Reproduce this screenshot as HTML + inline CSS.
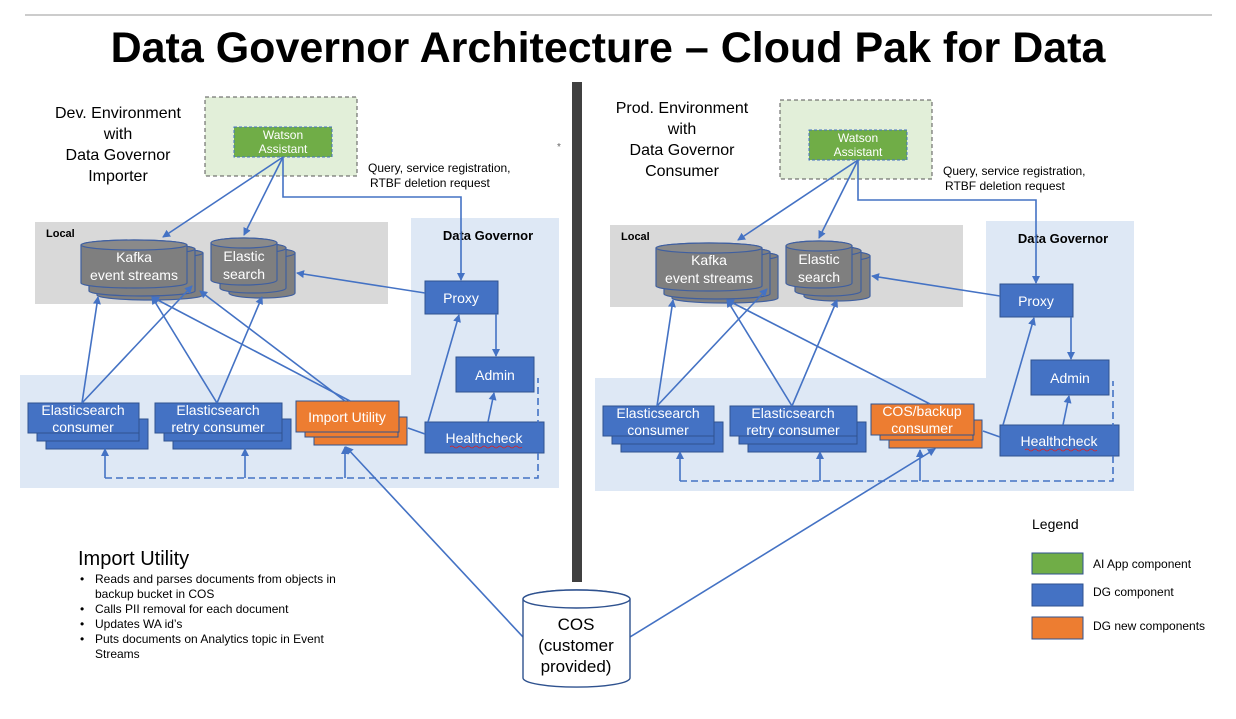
<!DOCTYPE html>
<html><head><meta charset="utf-8"><style>
html,body{margin:0;padding:0;background:#fff;}
svg{display:block;font-family:"Liberation Sans",sans-serif;}
</style></head><body>
<svg width="1236" height="719" viewBox="0 0 1236 719" xmlns="http://www.w3.org/2000/svg">
<defs>
<marker id="a" markerWidth="8" markerHeight="8" refX="7" refY="4" orient="auto" markerUnits="userSpaceOnUse"><path d="M0,0 L8,4 L0,8 Z" fill="#4472c4"/></marker>
<g id="kaf">
 <path d="M97,253 a53,5 0 0 1 106,0 v42 a53,5 0 0 1 -106,0 Z" fill="#7f7f7f" stroke="#3f5fa0" stroke-width="1.2"/>
 <ellipse cx="150" cy="253" rx="53" ry="5" fill="#808080" stroke="#3f5fa0" stroke-width="1.2"/>
 <path d="M89,249 a53,5 0 0 1 106,0 v42 a53,5 0 0 1 -106,0 Z" fill="#7f7f7f" stroke="#3f5fa0" stroke-width="1.2"/>
 <ellipse cx="142" cy="249" rx="53" ry="5" fill="#808080" stroke="#3f5fa0" stroke-width="1.2"/>
 <path d="M81,245 a53,5 0 0 1 106,0 v38 a53,5 0 0 1 -106,0 Z" fill="#7f7f7f" stroke="#3f5fa0" stroke-width="1.2"/>
 <ellipse cx="134" cy="245" rx="53" ry="5" fill="#8a8a8a" stroke="#3f5fa0" stroke-width="1.2"/>
 <text x="134" y="262" fill="#fff" font-size="14" text-anchor="middle">Kafka</text>
 <text x="134" y="280" fill="#fff" font-size="14" text-anchor="middle">event streams</text>
 <path d="M229,253 a33,5 0 0 1 66,0 v40 a33,5 0 0 1 -66,0 Z" fill="#7f7f7f" stroke="#3f5fa0" stroke-width="1.2"/>
 <ellipse cx="262" cy="253" rx="33" ry="5" fill="#808080" stroke="#3f5fa0" stroke-width="1.2"/>
 <path d="M220,248 a33,5 0 0 1 66,0 v40 a33,5 0 0 1 -66,0 Z" fill="#7f7f7f" stroke="#3f5fa0" stroke-width="1.2"/>
 <ellipse cx="253" cy="248" rx="33" ry="5" fill="#808080" stroke="#3f5fa0" stroke-width="1.2"/>
 <path d="M211,243 a33,5 0 0 1 66,0 v37 a33,5 0 0 1 -66,0 Z" fill="#7f7f7f" stroke="#3f5fa0" stroke-width="1.2"/>
 <ellipse cx="244" cy="243" rx="33" ry="5" fill="#8a8a8a" stroke="#3f5fa0" stroke-width="1.2"/>
 <text x="244" y="261" fill="#fff" font-size="14" text-anchor="middle">Elastic</text>
 <text x="244" y="279" fill="#fff" font-size="14" text-anchor="middle">search</text>
</g>
<g id="base">
 <rect x="20" y="375" width="391" height="113" fill="#dee8f5"/>
 <rect x="411" y="218" width="148" height="270" fill="#dee8f5"/>
 <rect x="35" y="222" width="353" height="82" fill="#d9d9d9"/>
 <text x="46" y="237" font-size="11" font-weight="bold">Local</text>
 <text x="488" y="240" font-size="13" font-weight="bold" text-anchor="middle">Data Governor</text>
 <rect x="205" y="97" width="152" height="79" fill="#e2efd9" stroke="#555" stroke-dasharray="4,3"/>
 <rect x="234" y="127" width="98" height="30" fill="#70ad47" stroke="#4472c4" stroke-dasharray="3,2"/>
 <text x="283" y="139" fill="#fff" font-size="12" text-anchor="middle">Watson</text>
 <text x="283" y="153" fill="#fff" font-size="12" text-anchor="middle">Assistant</text>
 <use href="#kaf"/>
 <g fill="#4472c4" stroke="#2f528f">
  <rect x="46" y="419" width="102" height="30"/><rect x="37" y="411" width="102" height="30"/><rect x="28" y="403" width="111" height="30"/>
  <rect x="173" y="419" width="118" height="30"/><rect x="164" y="411" width="118" height="30"/><rect x="155" y="403" width="127" height="30"/>
  <rect x="425" y="281" width="73" height="33"/>
  <rect x="456" y="357" width="78" height="35"/>
  <rect x="425" y="422" width="119" height="31"/>
 </g>
 <g fill="#fff" font-size="14" text-anchor="middle">
  <text x="83" y="415">Elasticsearch</text><text x="83" y="432">consumer</text>
  <text x="218" y="415">Elasticsearch</text><text x="218" y="432">retry consumer</text>
  <text x="461" y="303">Proxy</text><text x="495" y="380">Admin</text><text x="484" y="443">Healthcheck</text>
 </g>
 <path d="M450,447 q2,-2 4,0 t4,0 t4,0 t4,0 t4,0 t4,0 t4,0 t4,0 t4,0 t4,0 t4,0 t4,0 t4,0 t4,0 t4,0 t4,0 t4,0 t4,0" fill="none" stroke="#e02020" stroke-width="0.8"/>
 <g stroke="#4472c4" stroke-width="1.6" fill="none">
  <line x1="283" y1="157" x2="163" y2="237" marker-end="url(#a)"/>
  <line x1="283" y1="157" x2="244" y2="235" marker-end="url(#a)"/>
  <polyline points="283,157 283,197 461,197 461,280" marker-end="url(#a)"/>
  <line x1="425" y1="293" x2="297" y2="273" marker-end="url(#a)"/>
  <line x1="496" y1="314" x2="496" y2="356" marker-end="url(#a)"/>
  <line x1="428" y1="422" x2="459" y2="315" marker-end="url(#a)"/>
  <line x1="488" y1="422" x2="494" y2="393" marker-end="url(#a)"/>
  <line x1="425" y1="434" x2="408" y2="428"/>
  <line x1="82" y1="403" x2="98" y2="297" marker-end="url(#a)"/>
  <line x1="82" y1="403" x2="192" y2="286" marker-end="url(#a)"/>
  <line x1="217" y1="403" x2="152" y2="297" marker-end="url(#a)"/>
  <line x1="217" y1="403" x2="262" y2="297" marker-end="url(#a)"/>
  <line x1="105" y1="478" x2="105" y2="449" marker-end="url(#a)"/>
  <line x1="245" y1="478" x2="245" y2="449" marker-end="url(#a)"/>
  <line x1="345" y1="478" x2="345" y2="447" marker-end="url(#a)"/>
  <polyline points="105,478 538,478 538,378" stroke-dasharray="7,4"/>
 </g>
</g>
</defs>
<line x1="25" y1="15" x2="1212" y2="15" stroke="#ccc" stroke-width="2"/>
<text x="608" y="62" font-size="43" font-weight="bold" text-anchor="middle">Data Governor Architecture – Cloud Pak for Data</text>
<rect x="572" y="82" width="10" height="500" fill="#404040"/>
<text x="557" y="150" font-size="10" fill="#666">*</text>

<use href="#base"/>
<g fill="#ed7d31" stroke="#2f528f">
 <rect x="314" y="417" width="93" height="28"/><rect x="305" y="409" width="93" height="28"/><rect x="296" y="401" width="103" height="31"/>
</g>
<text x="347" y="422" fill="#fff" font-size="14" text-anchor="middle">Import Utility</text>
<g stroke="#4472c4" stroke-width="1.6" fill="none">
 <line x1="350" y1="401" x2="152" y2="297" marker-end="url(#a)"/>
 <line x1="345" y1="401" x2="200" y2="291" marker-end="url(#a)"/>
 <line x1="523" y1="637" x2="346" y2="447" marker-end="url(#a)"/>
</g>
<g font-size="16" text-anchor="middle">
 <text x="118" y="118">Dev. Environment</text><text x="118" y="139">with</text><text x="118" y="160">Data Governor</text><text x="118" y="181">Importer</text>
</g>
<text x="368" y="172" font-size="12">Query, service registration,</text>
<text x="370" y="187" font-size="12">RTBF  deletion request</text>

<g transform="translate(575,3)"><use href="#base"/>
<g fill="#ed7d31" stroke="#2f528f">
 <rect x="314" y="417" width="93" height="28"/><rect x="305" y="409" width="93" height="28"/><rect x="296" y="401" width="103" height="31"/>
</g>
<text x="347" y="413" fill="#fff" font-size="14" text-anchor="middle">COS/backup</text>
<text x="347" y="430" fill="#fff" font-size="14" text-anchor="middle">consumer</text>
<line x1="355" y1="401" x2="152" y2="297" stroke="#4472c4" stroke-width="1.6" marker-end="url(#a)"/>
</g>
<line x1="630" y1="637" x2="935" y2="449" stroke="#4472c4" stroke-width="1.6" marker-end="url(#a)"/>
<g font-size="16" text-anchor="middle">
 <text x="682" y="113">Prod. Environment</text><text x="682" y="134">with</text><text x="682" y="155">Data Governor</text><text x="682" y="176">Consumer</text>
</g>
<text x="943" y="175" font-size="12">Query, service registration,</text>
<text x="945" y="190" font-size="12">RTBF  deletion request</text>

<path d="M523,599 a53,9 0 0 1 107,0 v79 a53,9 0 0 1 -107,0 Z" fill="#fff" stroke="#2f528f" stroke-width="1.4"/>
<ellipse cx="576.5" cy="599" rx="53.5" ry="9" fill="#fff" stroke="#2f528f" stroke-width="1.4"/>
<g font-size="17" text-anchor="middle"><text x="576" y="630">COS</text><text x="576" y="651">(customer</text><text x="576" y="672">provided)</text></g>

<text x="78" y="565" font-size="20">Import Utility</text>
<g font-size="12">
 <text x="80" y="583">•</text><text x="95" y="583">Reads and parses documents from objects in</text><text x="95" y="598">backup bucket in COS</text>
 <text x="80" y="613">•</text><text x="95" y="613">Calls PII removal for each document</text>
 <text x="80" y="628">•</text><text x="95" y="628">Updates WA id’s</text>
 <text x="80" y="643">•</text><text x="95" y="643">Puts documents on Analytics topic in Event</text><text x="95" y="658">Streams</text>
</g>

<text x="1032" y="529" font-size="14">Legend</text>
<rect x="1032" y="553" width="51" height="21" fill="#70ad47" stroke="#2f528f"/>
<rect x="1032" y="584" width="51" height="22" fill="#4472c4" stroke="#2f528f"/>
<rect x="1032" y="617" width="51" height="22" fill="#ed7d31" stroke="#2f528f"/>
<g font-size="12"><text x="1093" y="568">AI App component</text><text x="1093" y="596">DG component</text><text x="1093" y="630">DG new components</text></g>
</svg>
</body></html>
